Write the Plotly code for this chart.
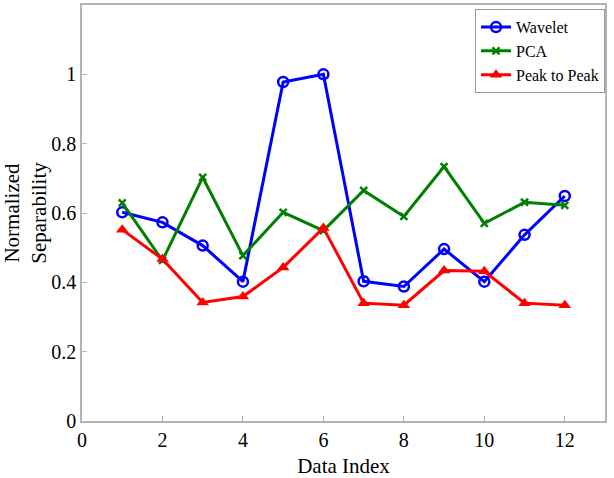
import plotly.graph_objects as go

data_index = list(range(1, 13))
wavelet = [0.602, 0.573, 0.506, 0.402, 0.978, 1.0, 0.403, 0.388, 0.496, 0.402, 0.537, 0.649]
pca = [0.629, 0.463, 0.703, 0.477, 0.602, 0.549, 0.665, 0.590, 0.734, 0.570, 0.631, 0.622]
peak_to_peak = [0.552, 0.467, 0.342, 0.359, 0.443, 0.557, 0.340, 0.334, 0.434, 0.432, 0.340, 0.334]

x_ticks = [0, 2, 4, 6, 8, 10, 12]
y_ticks = [0, 0.2, 0.4, 0.6, 0.8, 1]
y_tick_labels = ["0", "0.2", "0.4", "0.6", "0.8", "1"]

FONT = "Liberation Serif"
AX = "#b4b4b4"

fig = go.Figure()
fig.add_trace(go.Scatter(
    x=data_index, y=wavelet, name="Wavelet", mode="lines+markers",
    line=dict(color="#0000ff", width=3),
    marker=dict(symbol="circle-open", size=10, color="#0000ff", line=dict(width=2.5, color="#0000ff")),
))
fig.add_trace(go.Scatter(
    x=data_index, y=pca, name="PCA", mode="lines+markers",
    line=dict(color="#008000", width=3),
    marker=dict(symbol="x-thin", size=7, color="#008000", line=dict(width=2.5, color="#008000")),
))
fig.add_trace(go.Scatter(
    x=data_index, y=peak_to_peak, name="Peak to Peak", mode="lines+markers",
    line=dict(color="#ff0000", width=3),
    marker=dict(symbol="triangle-up", size=11, color="#ff0000"),
))

fig.update_layout(
    width=614, height=478,
    margin=dict(l=82, r=9, t=5, b=57),
    paper_bgcolor="white", plot_bgcolor="white",
    font=dict(family=FONT, size=19, color="black"),
    showlegend=True,
    legend=dict(
        x=1, y=0.99, xanchor="right", yanchor="top",
        bgcolor="white", bordercolor="#999999", borderwidth=1,
        font=dict(family=FONT, size=16, color="black"),
        tracegroupgap=0, itemwidth=30,
    ),
    xaxis=dict(
        range=[0, 13], tickvals=x_ticks, showgrid=False, zeroline=False,
        showline=True, linecolor=AX, linewidth=1.5, mirror=True,
        ticks="inside", ticklen=5, tickcolor=AX, automargin=False,
        tickfont=dict(family=FONT, size=20),
        title=dict(text="Data Index", font=dict(family=FONT, size=21)),
    ),
    yaxis=dict(
        range=[0, 1.2], tickvals=y_ticks, ticktext=y_tick_labels, showgrid=False, zeroline=False,
        showline=True, linecolor=AX, linewidth=1.5, mirror=True,
        ticks="inside", ticklen=5, tickcolor=AX, automargin=False,
        tickfont=dict(family=FONT, size=20),
        title=dict(text="Normalized<br>Separability", font=dict(family=FONT, size=21)),
    ),
)

fig.write_html(
    "out.html",
    config={"displayModeBar": False},
    post_script="document.body.style.margin='0';document.body.style.padding='0';",
)
